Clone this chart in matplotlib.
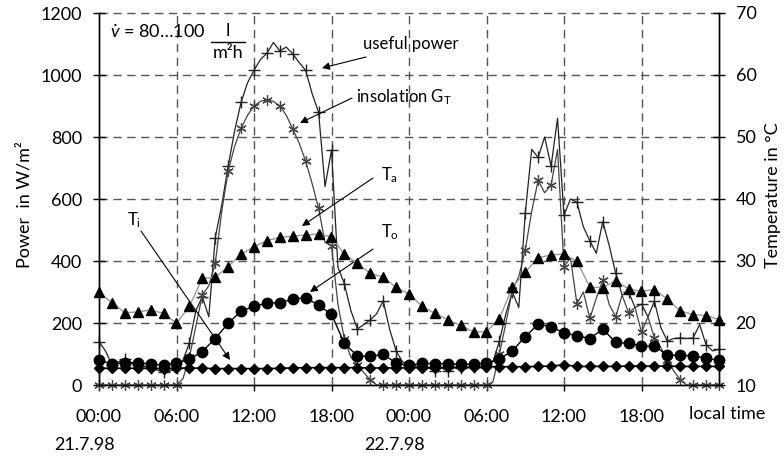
import numpy as np
import matplotlib
matplotlib.use("Agg")
import matplotlib.pyplot as plt
from matplotlib.lines import Line2D

# -----------------------------
# Data
# -----------------------------
# half-hourly power values, 21.7.98 00:00 ... 23.7.98 00:00
useful_power = [
    140, 110, 65, 75, 83, 70, 65, 60, 55, 48, 42, 45, 55,
    80, 136, 240, 285, 220, 475, 580, 706, 820, 912, 975, 1015,
    1050, 1070, 1105, 1078, 1090, 1068, 1040, 1015, 940, 880, 640, 758,
    380, 326, 240, 181, 195, 210, 230, 272, 180, 110, 75, 65,
    60, 60, 55, 46, 55, 46, 55, 55, 55, 58, 55, 60,
    75, 142, 230, 300, 250, 554, 760, 734, 800, 706, 860, 548,
    600, 590, 510, 465, 425, 527, 450, 360, 290, 300, 250, 261,
    220, 270, 185, 142, 150, 152, 150, 152, 195, 130, 110, 115,
]
insolation = [
    0, 0, 0, 0, 0, 0, 0, 0, 0, 0, 0, 0, 0,
    20, 90, 190, 290, 320, 392, 560, 690, 770, 828, 870, 900,
    915, 920, 915, 900, 870, 826, 780, 722, 650, 570, 460, 450,
    260, 147, 90, 65, 40, 17, 0, 0, 0, 0, 0, 0,
    0, 0, 0, 0, 0, 0, 0, 0, 0, 0, 0, 0,
    10, 100, 200, 305, 350, 435, 560, 661, 620, 645, 760, 382,
    410, 262, 300, 215, 280, 339, 260, 220, 290, 233, 250, 170,
    220, 152, 120, 82, 45, 17, 0, 0, 0, 0, 0, 0,
]

# hourly temperatures in degC
t_ambient = [
    24.95, 23.3, 21.65, 21.8, 22.1, 21.55, 19.95, 22.7, 27.2, 27.35, 29.1, 31.1, 32.3,
    33.3, 33.8, 34.0, 34.2, 34.35, 33.9, 31.1, 29.6, 28.0, 27.4, 25.75, 24.7,
    22.7, 21.55, 20.55, 19.6, 18.55, 18.6, 20.7, 25.75, 28.2, 30.5, 31.0, 31.1,
    29.95, 25.8, 25.7, 26.8, 25.5, 25.1, 25.4, 23.85, 21.95, 21.35, 21.2, 20.55,
]
t_outlet = [
    14.0, 13.4, 13.6, 13.6, 13.4, 13.2, 13.5, 14.15, 15.4, 17.5, 19.95, 21.9, 22.7,
    23.2, 23.3, 23.8, 24.1, 22.85, 21.4, 16.7, 14.7, 14.6, 14.95, 13.55, 13.15,
    13.5, 13.45, 13.45, 13.35, 13.35, 13.5, 14.2, 15.5, 17.8, 19.8, 19.4, 18.4,
    17.95, 17.5, 19.0, 16.9, 16.7, 16.3, 16.3, 14.8, 14.8, 14.7, 14.3, 14.0,
]
t_inlet = [
    12.7, 12.7, 12.7, 12.7, 12.7, 12.65, 12.7, 12.75, 12.7, 12.65, 12.65, 12.65, 12.65,
    12.65, 12.7, 12.75, 12.8, 12.8, 12.8, 12.8, 12.8, 12.75, 12.75, 12.75, 12.75,
    12.8, 12.8, 12.85, 12.85, 12.9, 12.95, 12.95, 12.95, 12.95, 13.0, 13.05, 13.25,
    13.0, 13.0, 13.0, 13.0, 13.05, 13.05, 13.05, 13.05, 13.0, 13.0, 13.0, 13.0,
]

tick_hours = [0, 6, 12, 18, 24, 30, 36, 42]
tick_labels = ["00:00", "06:00", "12:00", "18:00", "00:00", "06:00", "12:00", "18:00"]
date_hours = [0, 24]
date_labels = ["21.7.98", "22.7.98"]

hours_half = np.arange(0, 48.5, 0.5)
hours = np.arange(0, 49, 1)

# -----------------------------
# Style
# -----------------------------
plt.rcParams["font.family"] = ["Lato", "DejaVu Sans"]
plt.rcParams["mathtext.fontset"] = "custom"
plt.rcParams["mathtext.rm"] = "Lato"
plt.rcParams["mathtext.it"] = "Lato:italic"
plt.rcParams["mathtext.bf"] = "Lato:bold"

W, H = 784, 459
FS = 13


def px(x, y):
    """image pixel -> figure fraction"""
    return (x / W, 1 - y / H)


fig = plt.figure(figsize=(W / 100, H / 100), dpi=100)
ax = fig.add_axes([99 / W, 74 / H, 620 / W, 372 / H])
ax2 = ax.twinx()

ax.set_xlim(0, 48)
ax.set_ylim(0, 1200)
ax2.set_ylim(10, 70)

# grid
for h in tick_hours[1:]:
    ax.axvline(h, color="#555555", lw=1, dashes=(6, 4), zorder=0)
for p in range(200, 1201, 200):
    ax.axhline(p, color="#555555", lw=1, dashes=(6, 4), zorder=0, clip_on=False)

# power series
ax.plot(hours_half, useful_power, color="#222222", lw=0.9, marker="+", ms=9, mew=1.0,
        markevery=2, clip_on=False, zorder=3)
ax.plot(hours_half, insolation, color="#444444", lw=0.9, marker=(6, 2, 0), ms=7.5, mew=0.9,
        markevery=2, clip_on=False, zorder=3)

# temperatures
ax2.plot(hours, t_ambient, color="#999999", lw=1.0, marker="^", ms=7.5,
         mfc="black", mec="black", clip_on=False, zorder=3)
ax2.plot(hours, t_outlet, color="black", lw=1.0, marker="o", ms=7.5, clip_on=False, zorder=3)
ax2.plot(hours, t_inlet, color="black", lw=1.2, marker="D", ms=5, clip_on=False, zorder=3)

# axes cosmetics
for a in (ax, ax2):
    a.spines["top"].set_visible(False)
    for s in ("left", "right", "bottom"):
        a.spines[s].set_linewidth(1.0)
        a.spines[s].set_color("black")

ax.set_yticks(range(0, 1201, 200))
ax.tick_params(axis="y", direction="inout", length=8, width=1, labelsize=FS, pad=8)
ax2.set_yticks(range(10, 71, 10))
ax2.tick_params(axis="y", direction="inout", length=8, width=1, labelsize=FS, pad=8)

ax.set_xticks(tick_hours)
ax.set_xticklabels(tick_labels)
ax.tick_params(axis="x", direction="out", length=4, width=1, labelsize=FS, pad=13)

ax.text(48.6, -0.078, "local time", transform=ax.get_xaxis_transform(),
        ha="center", va="center", fontsize=FS)
for h, lab in zip(date_hours, date_labels):
    ax.text(h - 1.1, -0.16, lab, transform=ax.get_xaxis_transform(),
            ha="center", va="center", fontsize=FS)

fig.text(*px(25, 205), "Power  in W/m²", rotation=90, ha="center", va="center", fontsize=FS)
fig.text(*px(773, 195), "Temperature in °C", rotation=90, ha="center", va="center", fontsize=FS)

# flow rate note
fig.text(*px(110, 32), r"$\dot{v}$ = 80…100", ha="left", va="center", fontsize=FS)
fig.text(*px(228, 31), "l", ha="center", va="center", fontsize=FS)
fig.add_artist(Line2D([211 / W, 245 / W], [1 - 42 / H, 1 - 42 / H], color="black", lw=1))
fig.text(*px(228, 53), "m²h", ha="center", va="center", fontsize=FS)

# labels with arrows
arrow = dict(arrowstyle="-|>", color="black", lw=0.8, mutation_scale=11,
             shrinkA=0, shrinkB=0)
notes = [
    ("useful power", (363, 44), (366, 57), (322, 68)),
    (r"insolation G$_{\mathrm{T}}$", (356, 97), (352, 98), (300, 123)),
    (r"T$_{\mathrm{a}}$", (381, 175), (373, 178), (302, 226)),
    (r"T$_{\mathrm{o}}$", (381, 232), (373, 249), (310, 292)),
    (r"T$_{\mathrm{i}}$", (127, 220), (141, 231), (230, 360)),
]
for txt, tpos, start, end in notes:
    fig.text(*px(*tpos), txt, ha="left", va="center", fontsize=12)
    ax.annotate("", xy=px(*end), xycoords="figure fraction",
                xytext=px(*start), textcoords="figure fraction",
                arrowprops=arrow, zorder=5)

fig.savefig("out.png", dpi=100)
